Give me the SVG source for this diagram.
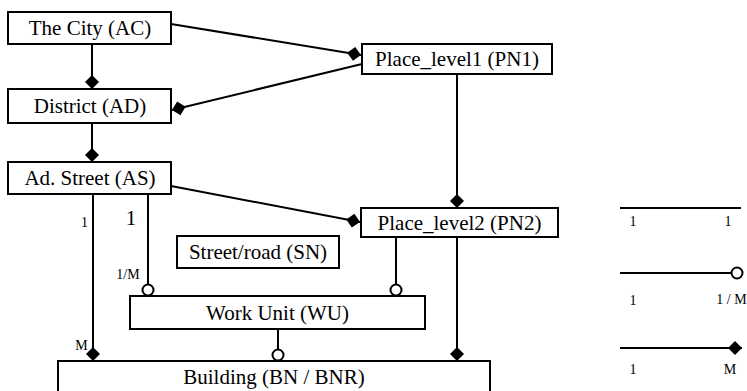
<svg xmlns="http://www.w3.org/2000/svg" width="747" height="391" viewBox="0 0 747 391" font-family="'Liberation Serif', 'Times New Roman', Tinos, 'DejaVu Serif', serif">
  <style>
    .box { fill: #fff; stroke: #000; stroke-width: 2; }
    .lbl { font-family: 'Liberation Serif', 'Times New Roman', Tinos, 'DejaVu Serif', serif; font-size: 21px; fill: #000; text-anchor: middle; }
    .card { font-family: 'Liberation Serif', 'Times New Roman', Tinos, 'DejaVu Serif', serif; font-size: 14px; fill: #000; text-anchor: middle; }
    .big { font-size: 21px; }
    .conn line { stroke: #000; stroke-width: 2; fill: none; }
    .many { marker-end: url(#diamond); }
    .opt { marker-end: url(#ring); }
  </style>
  <defs>
    <marker id="diamond" viewBox="0 -7 14 14" refX="14" refY="0" markerWidth="14" markerHeight="14" markerUnits="userSpaceOnUse" orient="auto" overflow="visible">
      <path d="M0,0 L7,-7 L14,0 L7,7 Z" fill="#000"/>
    </marker>
    <marker id="ring" viewBox="0 -7 14 14" refX="13" refY="0" markerWidth="14" markerHeight="14" markerUnits="userSpaceOnUse" orient="auto" overflow="visible">
      <circle cx="7" cy="0" r="5.5" fill="#fff" stroke="#000" stroke-width="2"/>
    </marker>
  </defs>

  <!-- connectors -->
  <g id="connectors" class="conn">
    <line class="many" x1="92" y1="44" x2="92" y2="89"/>
    <line class="many" x1="171" y1="24" x2="361" y2="55"/>
    <line class="many" x1="362" y1="64" x2="172" y2="110"/>
    <line class="many" x1="92" y1="123" x2="92" y2="162"/>
    <line class="many" x1="171" y1="186" x2="360" y2="222"/>
    <line class="many" x1="457" y1="74" x2="457" y2="208"/>
    <line class="many" x1="93" y1="194" x2="93" y2="361"/>
    <line class="opt" x1="148" y1="194" x2="148" y2="296"/>
    <line class="opt" x1="396" y1="237" x2="396" y2="296"/>
    <line class="many" x1="457" y1="237" x2="457" y2="361"/>
    <line class="opt" x1="278" y1="329" x2="278" y2="361"/>
  </g>

  <!-- cardinality labels -->
  <g id="cardinalities">
    <text class="card" x="84.5" y="227">1</text>
    <text class="card big" x="131" y="225">1</text>
    <text class="card" x="128" y="279">1/M</text>
    <text class="card" x="81.5" y="350">M</text>
  </g>

  <g id="city">
    <rect class="box" x="8" y="12" width="163" height="32"/>
    <text class="lbl" x="90" y="35">The City (AC)</text>
  </g>
  <g id="district">
    <rect class="box" x="8" y="89" width="163" height="34"/>
    <text class="lbl" x="90" y="113">District (AD)</text>
  </g>
  <g id="street">
    <rect class="box" x="8" y="162" width="163" height="32"/>
    <text class="lbl" x="90" y="185">Ad. Street (AS)</text>
  </g>
  <g id="place1">
    <rect class="box" x="362" y="44" width="190" height="30"/>
    <text class="lbl" x="457" y="66">Place_level1 (PN1)</text>
  </g>
  <g id="place2">
    <rect class="box" x="361" y="208" width="197" height="29"/>
    <text class="lbl" x="459.5" y="230">Place_level2 (PN2)</text>
  </g>
  <g id="road">
    <rect class="box" x="177" y="236" width="162" height="32"/>
    <text class="lbl" x="258" y="259">Street/road (SN)</text>
  </g>
  <g id="workunit">
    <rect class="box" x="130" y="296" width="295" height="33"/>
    <text class="lbl" x="277.5" y="320">Work Unit (WU)</text>
  </g>
  <g id="building">
    <rect class="box" x="58" y="361" width="432" height="40"/>
    <text class="lbl" x="274" y="384">Building (BN / BNR)</text>
  </g>

  <!-- legend -->
  <g id="legend" class="conn">
    <line x1="620" y1="208" x2="741" y2="208"/>
    <line class="opt" x1="620" y1="273" x2="743" y2="273"/>
    <line class="many" x1="620" y1="348" x2="742" y2="348"/>
  </g>
  <g id="legend-labels">
    <text class="card" x="633" y="226">1</text>
    <text class="card" x="728" y="226">1</text>
    <text class="card" x="633" y="305">1</text>
    <text class="card" x="731.5" y="304">1 / M</text>
    <text class="card" x="633" y="374">1</text>
    <text class="card" x="730" y="374">M</text>
  </g>
</svg>
